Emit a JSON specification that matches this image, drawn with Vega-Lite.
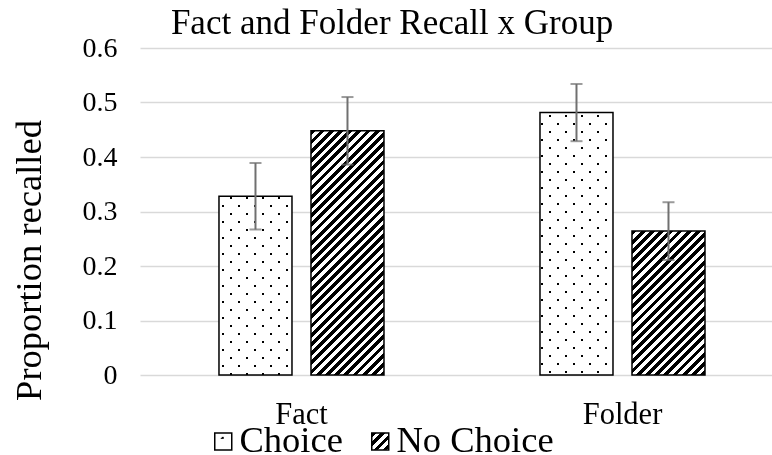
{
"$schema":"https://vega.github.io/schema/vega-lite/v6.json",
"width":632,"height":327,
"autosize":{"type":"none"},
"padding":{"left":140,"top":48,"right":0,"bottom":80},
"background":"white",
"title":{"text":"Fact and Folder Recall x Group","font":"Liberation Serif","fontSize":35,"fontWeight":"normal","color":"#000","anchor":"middle","frame":"group","dx":-64,"dy":35,"baseline":"alphabetic","offset":0},
"data":{"values":[
{"measure":"Fact","group":"Choice","value":0.328,"lo":0.267,"hi":0.389},
{"measure":"Fact","group":"No Choice","value":0.448,"lo":0.386,"hi":0.510},
{"measure":"Folder","group":"Choice","value":0.4815,"lo":0.429,"hi":0.534},
{"measure":"Folder","group":"No Choice","value":0.264,"lo":0.211,"hi":0.317}
]},
"encoding":{
"x":{"field":"measure","type":"nominal","title":null,"scale":{"domain":["Fact","Folder"],"paddingInner":0.486,"paddingOuter":0.2274,"align":0.541},
 "axis":{"labelFontSize":30.5,"labelAngle":0,"labelPadding":48,"labelBaseline":"alphabetic","labelColor":"#000","labelFont":"Liberation Serif","grid":false,"ticks":false,"domain":false}},
"xOffset":{"field":"group","type":"nominal","scale":{"domain":["Choice","No Choice"],"paddingInner":0.2065,"paddingOuter":0}},
"y":{"field":"value","type":"quantitative","title":"Proportion recalled","scale":{"domain":[0,0.6],"nice":false},
 "axis":{"values":[0,0.1,0.2,0.3,0.4,0.5,0.6],"format":".1~f","labelFontSize":28,"labelPadding":23,"labelColor":"#000","labelFont":"Liberation Serif","grid":true,"gridColor":"#d9d9d9","gridWidth":1.5,"domain":false,"ticks":false,"titleFont":"Liberation Serif","titleFontSize":36.5,"titleFontWeight":"normal","titleColor":"#000","titleAngle":-90,"titleX":-99.5,"titleY":212,"titleAlign":"center","titleBaseline":"alphabetic"}}
},
"layer":[
{"transform":[{"filter":"datum.measure==='Fact' && datum.group==='Choice'"}],
 "mark":{"type":"bar","fill":{"gradient":"linear","x1":0,"y1":0,"x2":0.7832,"y2":1.9178,"stops":[{"offset":0,"color":"#fff"},
{"offset":0.03,"color":"#fff"},{"offset":0.03,"color":"#000"},{"offset":0.037,"color":"#000"},{"offset":0.037,"color":"#fff"},
{"offset":0.07,"color":"#fff"},{"offset":0.07,"color":"#000"},{"offset":0.077,"color":"#000"},{"offset":0.077,"color":"#fff"},
{"offset":0.11,"color":"#fff"},{"offset":0.11,"color":"#000"},{"offset":0.117,"color":"#000"},{"offset":0.117,"color":"#fff"},
{"offset":0.15,"color":"#fff"},{"offset":0.15,"color":"#000"},{"offset":0.157,"color":"#000"},{"offset":0.157,"color":"#fff"},
{"offset":0.19,"color":"#fff"},{"offset":0.19,"color":"#000"},{"offset":0.197,"color":"#000"},{"offset":0.197,"color":"#fff"},
{"offset":0.23,"color":"#fff"},{"offset":0.23,"color":"#000"},{"offset":0.237,"color":"#000"},{"offset":0.237,"color":"#fff"},
{"offset":0.27,"color":"#fff"},{"offset":0.27,"color":"#000"},{"offset":0.277,"color":"#000"},{"offset":0.277,"color":"#fff"},
{"offset":0.31,"color":"#fff"},{"offset":0.31,"color":"#000"},{"offset":0.317,"color":"#000"},{"offset":0.317,"color":"#fff"},
{"offset":0.35,"color":"#fff"},{"offset":0.35,"color":"#000"},{"offset":0.357,"color":"#000"},{"offset":0.357,"color":"#fff"},
{"offset":0.39,"color":"#fff"},{"offset":0.39,"color":"#000"},{"offset":0.397,"color":"#000"},{"offset":0.397,"color":"#fff"},
{"offset":0.43,"color":"#fff"},{"offset":0.43,"color":"#000"},{"offset":0.437,"color":"#000"},{"offset":0.437,"color":"#fff"},
{"offset":0.47,"color":"#fff"},{"offset":0.47,"color":"#000"},{"offset":0.477,"color":"#000"},{"offset":0.477,"color":"#fff"},
{"offset":0.51,"color":"#fff"},{"offset":0.51,"color":"#000"},{"offset":0.517,"color":"#000"},{"offset":0.517,"color":"#fff"},
{"offset":0.55,"color":"#fff"},{"offset":0.55,"color":"#000"},{"offset":0.557,"color":"#000"},{"offset":0.557,"color":"#fff"},
{"offset":0.59,"color":"#fff"},{"offset":0.59,"color":"#000"},{"offset":0.597,"color":"#000"},{"offset":0.597,"color":"#fff"},
{"offset":0.63,"color":"#fff"},{"offset":0.63,"color":"#000"},{"offset":0.637,"color":"#000"},{"offset":0.637,"color":"#fff"}]}}},
{"transform":[{"filter":"datum.measure==='Fact' && datum.group==='Choice'"}],
 "mark":{"type":"bar","blend":"screen","fill":{"gradient":"linear","x1":0,"y1":1,"x2":0.7832,"y2":-0.9178,"stops":[{"offset":0,"color":"#fff"},
{"offset":0.03,"color":"#fff"},{"offset":0.03,"color":"#000"},{"offset":0.037,"color":"#000"},{"offset":0.037,"color":"#fff"},
{"offset":0.07,"color":"#fff"},{"offset":0.07,"color":"#000"},{"offset":0.077,"color":"#000"},{"offset":0.077,"color":"#fff"},
{"offset":0.11,"color":"#fff"},{"offset":0.11,"color":"#000"},{"offset":0.117,"color":"#000"},{"offset":0.117,"color":"#fff"},
{"offset":0.15,"color":"#fff"},{"offset":0.15,"color":"#000"},{"offset":0.157,"color":"#000"},{"offset":0.157,"color":"#fff"},
{"offset":0.19,"color":"#fff"},{"offset":0.19,"color":"#000"},{"offset":0.197,"color":"#000"},{"offset":0.197,"color":"#fff"},
{"offset":0.23,"color":"#fff"},{"offset":0.23,"color":"#000"},{"offset":0.237,"color":"#000"},{"offset":0.237,"color":"#fff"},
{"offset":0.27,"color":"#fff"},{"offset":0.27,"color":"#000"},{"offset":0.277,"color":"#000"},{"offset":0.277,"color":"#fff"},
{"offset":0.31,"color":"#fff"},{"offset":0.31,"color":"#000"},{"offset":0.317,"color":"#000"},{"offset":0.317,"color":"#fff"},
{"offset":0.35,"color":"#fff"},{"offset":0.35,"color":"#000"},{"offset":0.357,"color":"#000"},{"offset":0.357,"color":"#fff"},
{"offset":0.39,"color":"#fff"},{"offset":0.39,"color":"#000"},{"offset":0.397,"color":"#000"},{"offset":0.397,"color":"#fff"},
{"offset":0.43,"color":"#fff"},{"offset":0.43,"color":"#000"},{"offset":0.437,"color":"#000"},{"offset":0.437,"color":"#fff"},
{"offset":0.47,"color":"#fff"},{"offset":0.47,"color":"#000"},{"offset":0.477,"color":"#000"},{"offset":0.477,"color":"#fff"},
{"offset":0.51,"color":"#fff"},{"offset":0.51,"color":"#000"},{"offset":0.517,"color":"#000"},{"offset":0.517,"color":"#fff"},
{"offset":0.55,"color":"#fff"},{"offset":0.55,"color":"#000"},{"offset":0.557,"color":"#000"},{"offset":0.557,"color":"#fff"},
{"offset":0.59,"color":"#fff"},{"offset":0.59,"color":"#000"},{"offset":0.597,"color":"#000"},{"offset":0.597,"color":"#fff"},
{"offset":0.63,"color":"#fff"},{"offset":0.63,"color":"#000"},{"offset":0.637,"color":"#000"},{"offset":0.637,"color":"#fff"}]}}},
{"transform":[{"filter":"datum.measure==='Folder' && datum.group==='Choice'"}],
 "mark":{"type":"bar","fill":{"gradient":"linear","x1":0,"y1":0,"x2":0.3936,"y2":1.4148,"stops":[{"offset":0,"color":"#fff"},
{"offset":0.03,"color":"#fff"},{"offset":0.03,"color":"#000"},{"offset":0.037,"color":"#000"},{"offset":0.037,"color":"#fff"},
{"offset":0.07,"color":"#fff"},{"offset":0.07,"color":"#000"},{"offset":0.077,"color":"#000"},{"offset":0.077,"color":"#fff"},
{"offset":0.11,"color":"#fff"},{"offset":0.11,"color":"#000"},{"offset":0.117,"color":"#000"},{"offset":0.117,"color":"#fff"},
{"offset":0.15,"color":"#fff"},{"offset":0.15,"color":"#000"},{"offset":0.157,"color":"#000"},{"offset":0.157,"color":"#fff"},
{"offset":0.19,"color":"#fff"},{"offset":0.19,"color":"#000"},{"offset":0.197,"color":"#000"},{"offset":0.197,"color":"#fff"},
{"offset":0.23,"color":"#fff"},{"offset":0.23,"color":"#000"},{"offset":0.237,"color":"#000"},{"offset":0.237,"color":"#fff"},
{"offset":0.27,"color":"#fff"},{"offset":0.27,"color":"#000"},{"offset":0.277,"color":"#000"},{"offset":0.277,"color":"#fff"},
{"offset":0.31,"color":"#fff"},{"offset":0.31,"color":"#000"},{"offset":0.317,"color":"#000"},{"offset":0.317,"color":"#fff"},
{"offset":0.35,"color":"#fff"},{"offset":0.35,"color":"#000"},{"offset":0.357,"color":"#000"},{"offset":0.357,"color":"#fff"},
{"offset":0.39,"color":"#fff"},{"offset":0.39,"color":"#000"},{"offset":0.397,"color":"#000"},{"offset":0.397,"color":"#fff"},
{"offset":0.43,"color":"#fff"},{"offset":0.43,"color":"#000"},{"offset":0.437,"color":"#000"},{"offset":0.437,"color":"#fff"},
{"offset":0.47,"color":"#fff"},{"offset":0.47,"color":"#000"},{"offset":0.477,"color":"#000"},{"offset":0.477,"color":"#fff"},
{"offset":0.51,"color":"#fff"},{"offset":0.51,"color":"#000"},{"offset":0.517,"color":"#000"},{"offset":0.517,"color":"#fff"},
{"offset":0.55,"color":"#fff"},{"offset":0.55,"color":"#000"},{"offset":0.557,"color":"#000"},{"offset":0.557,"color":"#fff"},
{"offset":0.59,"color":"#fff"},{"offset":0.59,"color":"#000"},{"offset":0.597,"color":"#000"},{"offset":0.597,"color":"#fff"},
{"offset":0.63,"color":"#fff"},{"offset":0.63,"color":"#000"},{"offset":0.637,"color":"#000"},{"offset":0.637,"color":"#fff"},
{"offset":0.67,"color":"#fff"},{"offset":0.67,"color":"#000"},{"offset":0.677,"color":"#000"},{"offset":0.677,"color":"#fff"},
{"offset":0.71,"color":"#fff"},{"offset":0.71,"color":"#000"},{"offset":0.717,"color":"#000"},{"offset":0.717,"color":"#fff"},
{"offset":0.75,"color":"#fff"},{"offset":0.75,"color":"#000"},{"offset":0.757,"color":"#000"},{"offset":0.757,"color":"#fff"},
{"offset":0.79,"color":"#fff"},{"offset":0.79,"color":"#000"},{"offset":0.797,"color":"#000"},{"offset":0.797,"color":"#fff"},
{"offset":0.83,"color":"#fff"},{"offset":0.83,"color":"#000"},{"offset":0.837,"color":"#000"},{"offset":0.837,"color":"#fff"}]}}},
{"transform":[{"filter":"datum.measure==='Folder' && datum.group==='Choice'"}],
 "mark":{"type":"bar","blend":"screen","fill":{"gradient":"linear","x1":0,"y1":1,"x2":0.3936,"y2":-0.4148,"stops":[{"offset":0,"color":"#fff"},
{"offset":0.03,"color":"#fff"},{"offset":0.03,"color":"#000"},{"offset":0.037,"color":"#000"},{"offset":0.037,"color":"#fff"},
{"offset":0.07,"color":"#fff"},{"offset":0.07,"color":"#000"},{"offset":0.077,"color":"#000"},{"offset":0.077,"color":"#fff"},
{"offset":0.11,"color":"#fff"},{"offset":0.11,"color":"#000"},{"offset":0.117,"color":"#000"},{"offset":0.117,"color":"#fff"},
{"offset":0.15,"color":"#fff"},{"offset":0.15,"color":"#000"},{"offset":0.157,"color":"#000"},{"offset":0.157,"color":"#fff"},
{"offset":0.19,"color":"#fff"},{"offset":0.19,"color":"#000"},{"offset":0.197,"color":"#000"},{"offset":0.197,"color":"#fff"},
{"offset":0.23,"color":"#fff"},{"offset":0.23,"color":"#000"},{"offset":0.237,"color":"#000"},{"offset":0.237,"color":"#fff"},
{"offset":0.27,"color":"#fff"},{"offset":0.27,"color":"#000"},{"offset":0.277,"color":"#000"},{"offset":0.277,"color":"#fff"},
{"offset":0.31,"color":"#fff"},{"offset":0.31,"color":"#000"},{"offset":0.317,"color":"#000"},{"offset":0.317,"color":"#fff"},
{"offset":0.35,"color":"#fff"},{"offset":0.35,"color":"#000"},{"offset":0.357,"color":"#000"},{"offset":0.357,"color":"#fff"},
{"offset":0.39,"color":"#fff"},{"offset":0.39,"color":"#000"},{"offset":0.397,"color":"#000"},{"offset":0.397,"color":"#fff"},
{"offset":0.43,"color":"#fff"},{"offset":0.43,"color":"#000"},{"offset":0.437,"color":"#000"},{"offset":0.437,"color":"#fff"},
{"offset":0.47,"color":"#fff"},{"offset":0.47,"color":"#000"},{"offset":0.477,"color":"#000"},{"offset":0.477,"color":"#fff"},
{"offset":0.51,"color":"#fff"},{"offset":0.51,"color":"#000"},{"offset":0.517,"color":"#000"},{"offset":0.517,"color":"#fff"},
{"offset":0.55,"color":"#fff"},{"offset":0.55,"color":"#000"},{"offset":0.557,"color":"#000"},{"offset":0.557,"color":"#fff"},
{"offset":0.59,"color":"#fff"},{"offset":0.59,"color":"#000"},{"offset":0.597,"color":"#000"},{"offset":0.597,"color":"#fff"},
{"offset":0.63,"color":"#fff"},{"offset":0.63,"color":"#000"},{"offset":0.637,"color":"#000"},{"offset":0.637,"color":"#fff"},
{"offset":0.67,"color":"#fff"},{"offset":0.67,"color":"#000"},{"offset":0.677,"color":"#000"},{"offset":0.677,"color":"#fff"},
{"offset":0.71,"color":"#fff"},{"offset":0.71,"color":"#000"},{"offset":0.717,"color":"#000"},{"offset":0.717,"color":"#fff"},
{"offset":0.75,"color":"#fff"},{"offset":0.75,"color":"#000"},{"offset":0.757,"color":"#000"},{"offset":0.757,"color":"#fff"},
{"offset":0.79,"color":"#fff"},{"offset":0.79,"color":"#000"},{"offset":0.797,"color":"#000"},{"offset":0.797,"color":"#fff"},
{"offset":0.83,"color":"#fff"},{"offset":0.83,"color":"#000"},{"offset":0.837,"color":"#000"},{"offset":0.837,"color":"#fff"}]}}},
{"transform":[{"filter":"datum.measure==='Fact' && datum.group==='No Choice'"}],
 "mark":{"type":"bar","fill":{"gradient":"linear","x1":0,"y1":0,"x2":0.41365,"y2":1.38353,"stops":[
{"offset":0,"color":"#000"},{"offset":0.013,"color":"#000"},{"offset":0.013,"color":"#fff"},{"offset":0.025,"color":"#fff"},
{"offset":0.025,"color":"#000"},{"offset":0.038,"color":"#000"},{"offset":0.038,"color":"#fff"},{"offset":0.05,"color":"#fff"},
{"offset":0.05,"color":"#000"},{"offset":0.063,"color":"#000"},{"offset":0.063,"color":"#fff"},{"offset":0.075,"color":"#fff"},
{"offset":0.075,"color":"#000"},{"offset":0.088,"color":"#000"},{"offset":0.088,"color":"#fff"},{"offset":0.1,"color":"#fff"},
{"offset":0.1,"color":"#000"},{"offset":0.113,"color":"#000"},{"offset":0.113,"color":"#fff"},{"offset":0.125,"color":"#fff"},
{"offset":0.125,"color":"#000"},{"offset":0.138,"color":"#000"},{"offset":0.138,"color":"#fff"},{"offset":0.15,"color":"#fff"},
{"offset":0.15,"color":"#000"},{"offset":0.163,"color":"#000"},{"offset":0.163,"color":"#fff"},{"offset":0.175,"color":"#fff"},
{"offset":0.175,"color":"#000"},{"offset":0.188,"color":"#000"},{"offset":0.188,"color":"#fff"},{"offset":0.2,"color":"#fff"},
{"offset":0.2,"color":"#000"},{"offset":0.213,"color":"#000"},{"offset":0.213,"color":"#fff"},{"offset":0.225,"color":"#fff"},
{"offset":0.225,"color":"#000"},{"offset":0.238,"color":"#000"},{"offset":0.238,"color":"#fff"},{"offset":0.25,"color":"#fff"},
{"offset":0.25,"color":"#000"},{"offset":0.263,"color":"#000"},{"offset":0.263,"color":"#fff"},{"offset":0.275,"color":"#fff"},
{"offset":0.275,"color":"#000"},{"offset":0.288,"color":"#000"},{"offset":0.288,"color":"#fff"},{"offset":0.3,"color":"#fff"},
{"offset":0.3,"color":"#000"},{"offset":0.313,"color":"#000"},{"offset":0.313,"color":"#fff"},{"offset":0.325,"color":"#fff"},
{"offset":0.325,"color":"#000"},{"offset":0.338,"color":"#000"},{"offset":0.338,"color":"#fff"},{"offset":0.35,"color":"#fff"},
{"offset":0.35,"color":"#000"},{"offset":0.363,"color":"#000"},{"offset":0.363,"color":"#fff"},{"offset":0.375,"color":"#fff"},
{"offset":0.375,"color":"#000"},{"offset":0.388,"color":"#000"},{"offset":0.388,"color":"#fff"},{"offset":0.4,"color":"#fff"},
{"offset":0.4,"color":"#000"},{"offset":0.413,"color":"#000"},{"offset":0.413,"color":"#fff"},{"offset":0.425,"color":"#fff"},
{"offset":0.425,"color":"#000"},{"offset":0.438,"color":"#000"},{"offset":0.438,"color":"#fff"},{"offset":0.45,"color":"#fff"},
{"offset":0.45,"color":"#000"},{"offset":0.463,"color":"#000"},{"offset":0.463,"color":"#fff"},{"offset":0.475,"color":"#fff"},
{"offset":0.475,"color":"#000"},{"offset":0.488,"color":"#000"},{"offset":0.488,"color":"#fff"},{"offset":0.5,"color":"#fff"},
{"offset":0.5,"color":"#000"},{"offset":0.513,"color":"#000"},{"offset":0.513,"color":"#fff"},{"offset":0.525,"color":"#fff"},
{"offset":0.525,"color":"#000"},{"offset":0.538,"color":"#000"},{"offset":0.538,"color":"#fff"},{"offset":0.55,"color":"#fff"},
{"offset":0.55,"color":"#000"},{"offset":0.563,"color":"#000"},{"offset":0.563,"color":"#fff"},{"offset":0.575,"color":"#fff"},
{"offset":0.575,"color":"#000"},{"offset":0.588,"color":"#000"},{"offset":0.588,"color":"#fff"},{"offset":0.6,"color":"#fff"},
{"offset":0.6,"color":"#000"},{"offset":0.613,"color":"#000"},{"offset":0.613,"color":"#fff"},{"offset":0.625,"color":"#fff"},
{"offset":0.625,"color":"#000"},{"offset":0.638,"color":"#000"},{"offset":0.638,"color":"#fff"},{"offset":0.65,"color":"#fff"},
{"offset":0.65,"color":"#000"},{"offset":0.663,"color":"#000"},{"offset":0.663,"color":"#fff"},{"offset":0.675,"color":"#fff"},
{"offset":0.675,"color":"#000"},{"offset":0.688,"color":"#000"},{"offset":0.688,"color":"#fff"},{"offset":0.7,"color":"#fff"},
{"offset":0.7,"color":"#000"},{"offset":0.713,"color":"#000"},{"offset":0.713,"color":"#fff"},{"offset":0.725,"color":"#fff"},
{"offset":0.725,"color":"#000"},{"offset":0.738,"color":"#000"},{"offset":0.738,"color":"#fff"},{"offset":0.75,"color":"#fff"},
{"offset":0.75,"color":"#000"},{"offset":0.763,"color":"#000"},{"offset":0.763,"color":"#fff"},{"offset":0.775,"color":"#fff"},
{"offset":0.775,"color":"#000"},{"offset":0.788,"color":"#000"},{"offset":0.788,"color":"#fff"},{"offset":0.8,"color":"#fff"},
{"offset":0.8,"color":"#000"},{"offset":0.813,"color":"#000"},{"offset":0.813,"color":"#fff"},{"offset":0.825,"color":"#fff"},
{"offset":0.825,"color":"#000"},{"offset":0.838,"color":"#000"},{"offset":0.838,"color":"#fff"},{"offset":0.85,"color":"#fff"},
{"offset":0.85,"color":"#000"},{"offset":0.863,"color":"#000"},{"offset":0.863,"color":"#fff"},{"offset":0.875,"color":"#fff"}]}}},
{"transform":[{"filter":"datum.measure==='Folder' && datum.group==='No Choice'"}],
 "mark":{"type":"bar","fill":{"gradient":"linear","x1":0,"y1":0,"x2":1.03202,"y2":2.03406,"stops":[
{"offset":0,"color":"#000"},{"offset":0.013,"color":"#000"},{"offset":0.013,"color":"#fff"},{"offset":0.025,"color":"#fff"},
{"offset":0.025,"color":"#000"},{"offset":0.038,"color":"#000"},{"offset":0.038,"color":"#fff"},{"offset":0.05,"color":"#fff"},
{"offset":0.05,"color":"#000"},{"offset":0.063,"color":"#000"},{"offset":0.063,"color":"#fff"},{"offset":0.075,"color":"#fff"},
{"offset":0.075,"color":"#000"},{"offset":0.088,"color":"#000"},{"offset":0.088,"color":"#fff"},{"offset":0.1,"color":"#fff"},
{"offset":0.1,"color":"#000"},{"offset":0.113,"color":"#000"},{"offset":0.113,"color":"#fff"},{"offset":0.125,"color":"#fff"},
{"offset":0.125,"color":"#000"},{"offset":0.138,"color":"#000"},{"offset":0.138,"color":"#fff"},{"offset":0.15,"color":"#fff"},
{"offset":0.15,"color":"#000"},{"offset":0.163,"color":"#000"},{"offset":0.163,"color":"#fff"},{"offset":0.175,"color":"#fff"},
{"offset":0.175,"color":"#000"},{"offset":0.188,"color":"#000"},{"offset":0.188,"color":"#fff"},{"offset":0.2,"color":"#fff"},
{"offset":0.2,"color":"#000"},{"offset":0.213,"color":"#000"},{"offset":0.213,"color":"#fff"},{"offset":0.225,"color":"#fff"},
{"offset":0.225,"color":"#000"},{"offset":0.238,"color":"#000"},{"offset":0.238,"color":"#fff"},{"offset":0.25,"color":"#fff"},
{"offset":0.25,"color":"#000"},{"offset":0.263,"color":"#000"},{"offset":0.263,"color":"#fff"},{"offset":0.275,"color":"#fff"},
{"offset":0.275,"color":"#000"},{"offset":0.288,"color":"#000"},{"offset":0.288,"color":"#fff"},{"offset":0.3,"color":"#fff"},
{"offset":0.3,"color":"#000"},{"offset":0.313,"color":"#000"},{"offset":0.313,"color":"#fff"},{"offset":0.325,"color":"#fff"},
{"offset":0.325,"color":"#000"},{"offset":0.338,"color":"#000"},{"offset":0.338,"color":"#fff"},{"offset":0.35,"color":"#fff"},
{"offset":0.35,"color":"#000"},{"offset":0.363,"color":"#000"},{"offset":0.363,"color":"#fff"},{"offset":0.375,"color":"#fff"},
{"offset":0.375,"color":"#000"},{"offset":0.388,"color":"#000"},{"offset":0.388,"color":"#fff"},{"offset":0.4,"color":"#fff"},
{"offset":0.4,"color":"#000"},{"offset":0.413,"color":"#000"},{"offset":0.413,"color":"#fff"},{"offset":0.425,"color":"#fff"},
{"offset":0.425,"color":"#000"},{"offset":0.438,"color":"#000"},{"offset":0.438,"color":"#fff"},{"offset":0.45,"color":"#fff"},
{"offset":0.45,"color":"#000"},{"offset":0.463,"color":"#000"},{"offset":0.463,"color":"#fff"},{"offset":0.475,"color":"#fff"},
{"offset":0.475,"color":"#000"},{"offset":0.488,"color":"#000"},{"offset":0.488,"color":"#fff"},{"offset":0.5,"color":"#fff"},
{"offset":0.5,"color":"#000"},{"offset":0.513,"color":"#000"},{"offset":0.513,"color":"#fff"},{"offset":0.525,"color":"#fff"},
{"offset":0.525,"color":"#000"},{"offset":0.538,"color":"#000"},{"offset":0.538,"color":"#fff"},{"offset":0.55,"color":"#fff"},
{"offset":0.55,"color":"#000"},{"offset":0.563,"color":"#000"},{"offset":0.563,"color":"#fff"},{"offset":0.575,"color":"#fff"},
{"offset":0.575,"color":"#000"},{"offset":0.588,"color":"#000"},{"offset":0.588,"color":"#fff"},{"offset":0.6,"color":"#fff"}]}}},
{"mark":{"type":"bar","filled":false,"stroke":"#000","strokeWidth":1.5}},
{"transform":[{"filter":"false"}],
 "mark":{"type":"bar"},
 "encoding":{"fill":{"field":"group","type":"nominal","scale":{"domain":["Choice","No Choice"],"range":[
   {"expr":"{gradient:'radial',x1:0.45,y1:0.3,r1:0,x2:0.45,y2:0.3,r2:0.5,stops:[{offset:0,color:'#000'},{offset:0.15,color:'#000'},{offset:0.15,color:'#fff'},{offset:1,color:'#fff'}]}"},
   {"expr":"{gradient:'linear',x1:0,y1:0,x2:10.82,y2:10.82,stops:[{offset:0,color:'#000'},{offset:0.013,color:'#000'},{offset:0.013,color:'#fff'},{offset:0.025,color:'#fff'},{offset:0.025,color:'#000'},{offset:0.038,color:'#000'},{offset:0.038,color:'#fff'},{offset:0.05,color:'#fff'},{offset:0.05,color:'#000'},{offset:0.063,color:'#000'},{offset:0.063,color:'#fff'},{offset:0.075,color:'#fff'},{offset:0.075,color:'#000'},{offset:0.088,color:'#000'},{offset:0.088,color:'#fff'},{offset:0.1,color:'#fff'}]}"}
  ]},
  "legend":{"orient":"none","legendX":65,"legendY":375,"direction":"horizontal","title":null,"symbolType":"square","symbolSize":289,"symbolStrokeWidth":1.5,"symbolStrokeColor":"#000","symbolOpacity":1,"labelFont":"Liberation Serif","labelFontSize":36.5,"labelColor":"#000","labelOffset":-2,"columnPadding":19,"padding":0,"labelLimit":0}}}},
{"mark":{"type":"rule","color":"#707070","strokeWidth":2},
 "encoding":{"y":{"field":"lo","type":"quantitative","title":"Proportion recalled"},"y2":{"field":"hi"}}},
{"mark":{"type":"tick","color":"#707070","size":12,"thickness":2},
 "encoding":{"y":{"field":"lo","type":"quantitative","title":"Proportion recalled"}}},
{"mark":{"type":"tick","color":"#707070","size":12,"thickness":2},
 "encoding":{"y":{"field":"hi","type":"quantitative","title":"Proportion recalled"}}}
],
"config":{"view":{"stroke":null},"font":"Liberation Serif"}
}
